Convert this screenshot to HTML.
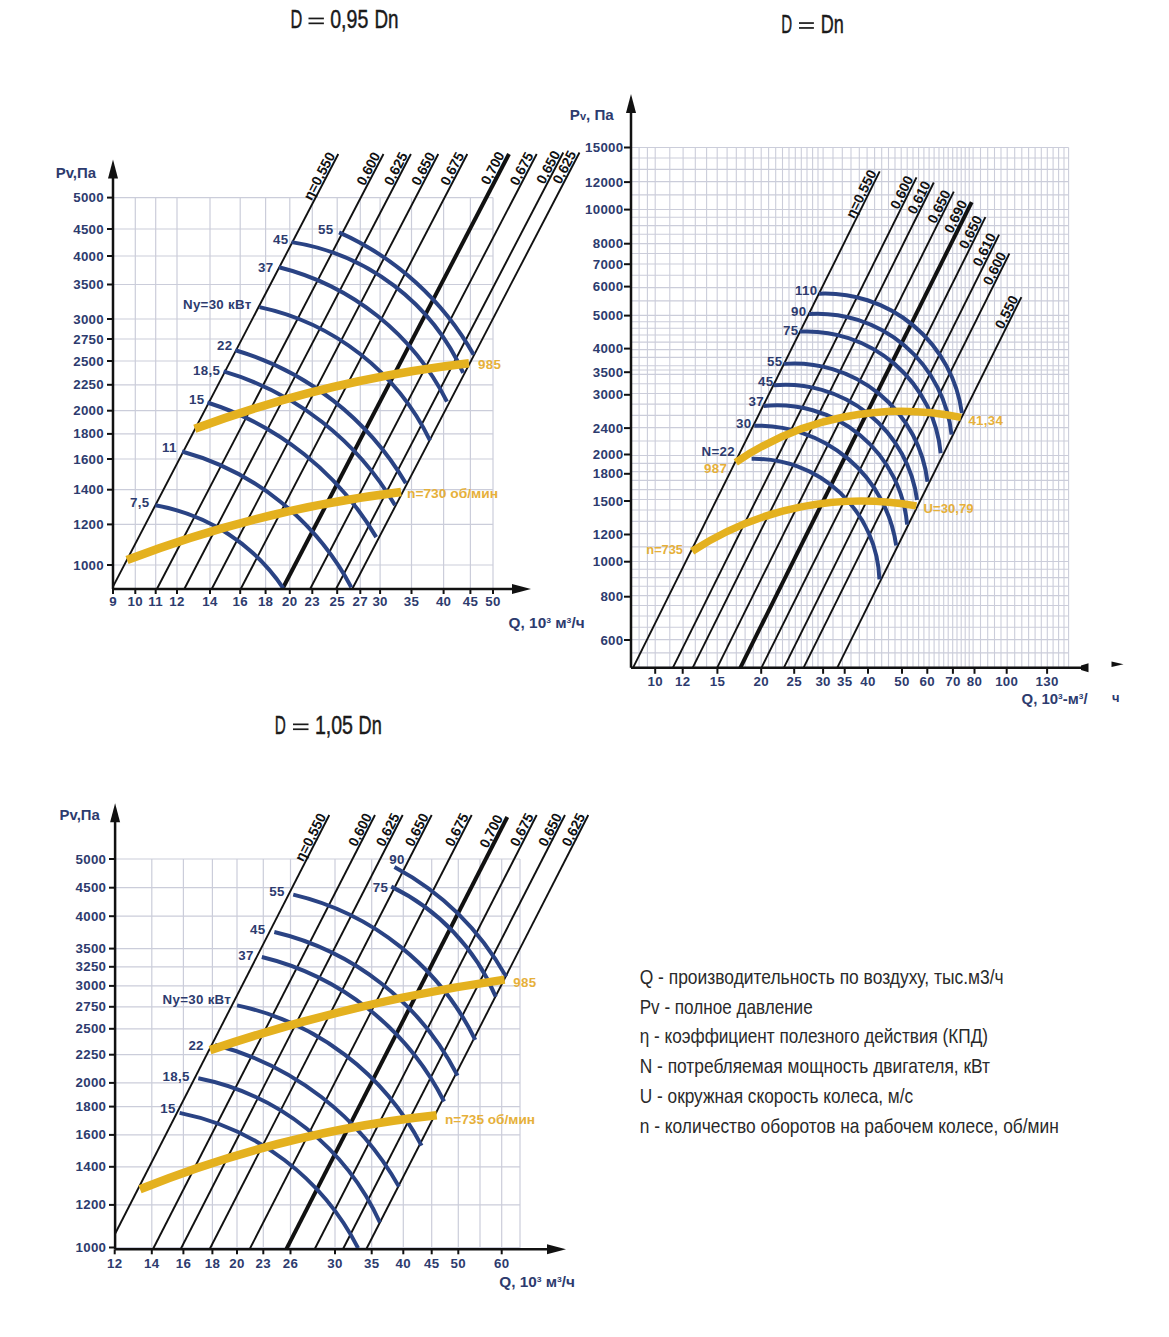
<!DOCTYPE html>
<html><head><meta charset="utf-8"><style>html,body{margin:0;padding:0;background:#fff;overflow:hidden;}svg{display:block}</style></head>
<body><svg width="1169" height="1337" viewBox="0 0 1169 1337">
<rect width="1169" height="1337" fill="#fff"/>
<text x="290.4" y="27.6" font-family="Liberation Sans" font-size="25.5" font-weight="normal" fill="#1a1a1a" text-anchor="start" textLength="11.8" lengthAdjust="spacingAndGlyphs" stroke="#1a1a1a" stroke-width="0.45">D</text>
<text x="330.2" y="27.6" font-family="Liberation Sans" font-size="25.5" font-weight="normal" fill="#1a1a1a" text-anchor="start" textLength="38.1" lengthAdjust="spacingAndGlyphs" stroke="#1a1a1a" stroke-width="0.45">0,95</text>
<text x="374.4" y="27.6" font-family="Liberation Sans" font-size="25.5" font-weight="normal" fill="#1a1a1a" text-anchor="start" textLength="24.1" lengthAdjust="spacingAndGlyphs" stroke="#1a1a1a" stroke-width="0.45">Dn</text>
<text x="781.2" y="32.8" font-family="Liberation Sans" font-size="25.5" font-weight="normal" fill="#1a1a1a" text-anchor="start" textLength="10.9" lengthAdjust="spacingAndGlyphs" stroke="#1a1a1a" stroke-width="0.45">D</text>
<text x="820.8" y="32.8" font-family="Liberation Sans" font-size="25.5" font-weight="normal" fill="#1a1a1a" text-anchor="start" textLength="23.1" lengthAdjust="spacingAndGlyphs" stroke="#1a1a1a" stroke-width="0.45">Dn</text>
<text x="274.8" y="733.5" font-family="Liberation Sans" font-size="25.5" font-weight="normal" fill="#1a1a1a" text-anchor="start" textLength="11.1" lengthAdjust="spacingAndGlyphs" stroke="#1a1a1a" stroke-width="0.45">D</text>
<text x="314.9" y="733.5" font-family="Liberation Sans" font-size="25.5" font-weight="normal" fill="#1a1a1a" text-anchor="start" textLength="38.1" lengthAdjust="spacingAndGlyphs" stroke="#1a1a1a" stroke-width="0.45">1,05</text>
<text x="358.6" y="733.5" font-family="Liberation Sans" font-size="25.5" font-weight="normal" fill="#1a1a1a" text-anchor="start" textLength="23.2" lengthAdjust="spacingAndGlyphs" stroke="#1a1a1a" stroke-width="0.45">Dn</text>
<rect x="308.5" y="17.6" width="15.4" height="1.7" fill="#1a1a1a"/>
<rect x="308.5" y="22.5" width="15.4" height="1.7" fill="#1a1a1a"/>
<rect x="799" y="22.2" width="14.9" height="1.7" fill="#1a1a1a"/>
<rect x="799" y="27.1" width="14.9" height="1.7" fill="#1a1a1a"/>
<rect x="293" y="723.5" width="15.5" height="1.7" fill="#1a1a1a"/>
<rect x="293" y="728.4" width="15.5" height="1.7" fill="#1a1a1a"/>
<line x1="113.0" y1="197.6" x2="493.0" y2="197.6" stroke="#cbcdda" stroke-width="1.2" stroke-linecap="butt"/>
<line x1="113.0" y1="229.0" x2="493.0" y2="229.0" stroke="#cbcdda" stroke-width="1.2" stroke-linecap="butt"/>
<line x1="113.0" y1="256.0" x2="493.0" y2="256.0" stroke="#cbcdda" stroke-width="1.2" stroke-linecap="butt"/>
<line x1="113.0" y1="284.5" x2="493.0" y2="284.5" stroke="#cbcdda" stroke-width="1.2" stroke-linecap="butt"/>
<line x1="113.0" y1="319.0" x2="493.0" y2="319.0" stroke="#cbcdda" stroke-width="1.2" stroke-linecap="butt"/>
<line x1="113.0" y1="339.0" x2="493.0" y2="339.0" stroke="#cbcdda" stroke-width="1.2" stroke-linecap="butt"/>
<line x1="113.0" y1="361.0" x2="493.0" y2="361.0" stroke="#cbcdda" stroke-width="1.2" stroke-linecap="butt"/>
<line x1="113.0" y1="384.8" x2="493.0" y2="384.8" stroke="#cbcdda" stroke-width="1.2" stroke-linecap="butt"/>
<line x1="113.0" y1="410.7" x2="493.0" y2="410.7" stroke="#cbcdda" stroke-width="1.2" stroke-linecap="butt"/>
<line x1="113.0" y1="433.9" x2="493.0" y2="433.9" stroke="#cbcdda" stroke-width="1.2" stroke-linecap="butt"/>
<line x1="113.0" y1="459.0" x2="493.0" y2="459.0" stroke="#cbcdda" stroke-width="1.2" stroke-linecap="butt"/>
<line x1="113.0" y1="489.7" x2="493.0" y2="489.7" stroke="#cbcdda" stroke-width="1.2" stroke-linecap="butt"/>
<line x1="113.0" y1="524.4" x2="493.0" y2="524.4" stroke="#cbcdda" stroke-width="1.2" stroke-linecap="butt"/>
<line x1="113.0" y1="565.0" x2="493.0" y2="565.0" stroke="#cbcdda" stroke-width="1.2" stroke-linecap="butt"/>
<line x1="135.3" y1="197.6" x2="135.3" y2="589.0" stroke="#cbcdda" stroke-width="1.2" stroke-linecap="butt"/>
<line x1="155.7" y1="197.6" x2="155.7" y2="589.0" stroke="#cbcdda" stroke-width="1.2" stroke-linecap="butt"/>
<line x1="177.0" y1="197.6" x2="177.0" y2="589.0" stroke="#cbcdda" stroke-width="1.2" stroke-linecap="butt"/>
<line x1="210.0" y1="197.6" x2="210.0" y2="589.0" stroke="#cbcdda" stroke-width="1.2" stroke-linecap="butt"/>
<line x1="240.2" y1="197.6" x2="240.2" y2="589.0" stroke="#cbcdda" stroke-width="1.2" stroke-linecap="butt"/>
<line x1="265.6" y1="197.6" x2="265.6" y2="589.0" stroke="#cbcdda" stroke-width="1.2" stroke-linecap="butt"/>
<line x1="289.8" y1="197.6" x2="289.8" y2="589.0" stroke="#cbcdda" stroke-width="1.2" stroke-linecap="butt"/>
<line x1="312.3" y1="197.6" x2="312.3" y2="589.0" stroke="#cbcdda" stroke-width="1.2" stroke-linecap="butt"/>
<line x1="337.2" y1="197.6" x2="337.2" y2="589.0" stroke="#cbcdda" stroke-width="1.2" stroke-linecap="butt"/>
<line x1="360.3" y1="197.6" x2="360.3" y2="589.0" stroke="#cbcdda" stroke-width="1.2" stroke-linecap="butt"/>
<line x1="380.1" y1="197.6" x2="380.1" y2="589.0" stroke="#cbcdda" stroke-width="1.2" stroke-linecap="butt"/>
<line x1="411.5" y1="197.6" x2="411.5" y2="589.0" stroke="#cbcdda" stroke-width="1.2" stroke-linecap="butt"/>
<line x1="443.6" y1="197.6" x2="443.6" y2="589.0" stroke="#cbcdda" stroke-width="1.2" stroke-linecap="butt"/>
<line x1="470.4" y1="197.6" x2="470.4" y2="589.0" stroke="#cbcdda" stroke-width="1.2" stroke-linecap="butt"/>
<line x1="493.0" y1="197.6" x2="493.0" y2="589.0" stroke="#cbcdda" stroke-width="1.2" stroke-linecap="butt"/>
<line x1="107.0" y1="197.6" x2="113.0" y2="197.6" stroke="#111111" stroke-width="2" stroke-linecap="butt"/>
<text x="104.0" y="202.1" font-family="Liberation Sans" font-size="13.3" font-weight="bold" fill="#2d3b6e" text-anchor="end" letter-spacing="0.3">5000</text>
<line x1="107.0" y1="229.0" x2="113.0" y2="229.0" stroke="#111111" stroke-width="2" stroke-linecap="butt"/>
<text x="104.0" y="233.5" font-family="Liberation Sans" font-size="13.3" font-weight="bold" fill="#2d3b6e" text-anchor="end" letter-spacing="0.3">4500</text>
<line x1="107.0" y1="256.0" x2="113.0" y2="256.0" stroke="#111111" stroke-width="2" stroke-linecap="butt"/>
<text x="104.0" y="260.5" font-family="Liberation Sans" font-size="13.3" font-weight="bold" fill="#2d3b6e" text-anchor="end" letter-spacing="0.3">4000</text>
<line x1="107.0" y1="284.5" x2="113.0" y2="284.5" stroke="#111111" stroke-width="2" stroke-linecap="butt"/>
<text x="104.0" y="289.0" font-family="Liberation Sans" font-size="13.3" font-weight="bold" fill="#2d3b6e" text-anchor="end" letter-spacing="0.3">3500</text>
<line x1="107.0" y1="319.0" x2="113.0" y2="319.0" stroke="#111111" stroke-width="2" stroke-linecap="butt"/>
<text x="104.0" y="323.5" font-family="Liberation Sans" font-size="13.3" font-weight="bold" fill="#2d3b6e" text-anchor="end" letter-spacing="0.3">3000</text>
<line x1="107.0" y1="339.0" x2="113.0" y2="339.0" stroke="#111111" stroke-width="2" stroke-linecap="butt"/>
<text x="104.0" y="343.5" font-family="Liberation Sans" font-size="13.3" font-weight="bold" fill="#2d3b6e" text-anchor="end" letter-spacing="0.3">2750</text>
<line x1="107.0" y1="361.0" x2="113.0" y2="361.0" stroke="#111111" stroke-width="2" stroke-linecap="butt"/>
<text x="104.0" y="365.5" font-family="Liberation Sans" font-size="13.3" font-weight="bold" fill="#2d3b6e" text-anchor="end" letter-spacing="0.3">2500</text>
<line x1="107.0" y1="384.8" x2="113.0" y2="384.8" stroke="#111111" stroke-width="2" stroke-linecap="butt"/>
<text x="104.0" y="389.3" font-family="Liberation Sans" font-size="13.3" font-weight="bold" fill="#2d3b6e" text-anchor="end" letter-spacing="0.3">2250</text>
<line x1="107.0" y1="410.7" x2="113.0" y2="410.7" stroke="#111111" stroke-width="2" stroke-linecap="butt"/>
<text x="104.0" y="415.2" font-family="Liberation Sans" font-size="13.3" font-weight="bold" fill="#2d3b6e" text-anchor="end" letter-spacing="0.3">2000</text>
<line x1="107.0" y1="433.9" x2="113.0" y2="433.9" stroke="#111111" stroke-width="2" stroke-linecap="butt"/>
<text x="104.0" y="438.4" font-family="Liberation Sans" font-size="13.3" font-weight="bold" fill="#2d3b6e" text-anchor="end" letter-spacing="0.3">1800</text>
<line x1="107.0" y1="459.0" x2="113.0" y2="459.0" stroke="#111111" stroke-width="2" stroke-linecap="butt"/>
<text x="104.0" y="463.5" font-family="Liberation Sans" font-size="13.3" font-weight="bold" fill="#2d3b6e" text-anchor="end" letter-spacing="0.3">1600</text>
<line x1="107.0" y1="489.7" x2="113.0" y2="489.7" stroke="#111111" stroke-width="2" stroke-linecap="butt"/>
<text x="104.0" y="494.2" font-family="Liberation Sans" font-size="13.3" font-weight="bold" fill="#2d3b6e" text-anchor="end" letter-spacing="0.3">1400</text>
<line x1="107.0" y1="524.4" x2="113.0" y2="524.4" stroke="#111111" stroke-width="2" stroke-linecap="butt"/>
<text x="104.0" y="528.9" font-family="Liberation Sans" font-size="13.3" font-weight="bold" fill="#2d3b6e" text-anchor="end" letter-spacing="0.3">1200</text>
<line x1="107.0" y1="565.0" x2="113.0" y2="565.0" stroke="#111111" stroke-width="2" stroke-linecap="butt"/>
<text x="104.0" y="569.5" font-family="Liberation Sans" font-size="13.3" font-weight="bold" fill="#2d3b6e" text-anchor="end" letter-spacing="0.3">1000</text>
<line x1="113.0" y1="589.0" x2="113.0" y2="594.0" stroke="#111111" stroke-width="2" stroke-linecap="butt"/>
<text x="113.0" y="606.0" font-family="Liberation Sans" font-size="13.3" font-weight="bold" fill="#2d3b6e" text-anchor="middle" letter-spacing="0.3">9</text>
<line x1="135.3" y1="589.0" x2="135.3" y2="594.0" stroke="#111111" stroke-width="2" stroke-linecap="butt"/>
<text x="135.3" y="606.0" font-family="Liberation Sans" font-size="13.3" font-weight="bold" fill="#2d3b6e" text-anchor="middle" letter-spacing="0.3">10</text>
<line x1="155.7" y1="589.0" x2="155.7" y2="594.0" stroke="#111111" stroke-width="2" stroke-linecap="butt"/>
<text x="155.7" y="606.0" font-family="Liberation Sans" font-size="13.3" font-weight="bold" fill="#2d3b6e" text-anchor="middle" letter-spacing="0.3">11</text>
<line x1="177.0" y1="589.0" x2="177.0" y2="594.0" stroke="#111111" stroke-width="2" stroke-linecap="butt"/>
<text x="177.0" y="606.0" font-family="Liberation Sans" font-size="13.3" font-weight="bold" fill="#2d3b6e" text-anchor="middle" letter-spacing="0.3">12</text>
<line x1="210.0" y1="589.0" x2="210.0" y2="594.0" stroke="#111111" stroke-width="2" stroke-linecap="butt"/>
<text x="210.0" y="606.0" font-family="Liberation Sans" font-size="13.3" font-weight="bold" fill="#2d3b6e" text-anchor="middle" letter-spacing="0.3">14</text>
<line x1="240.2" y1="589.0" x2="240.2" y2="594.0" stroke="#111111" stroke-width="2" stroke-linecap="butt"/>
<text x="240.2" y="606.0" font-family="Liberation Sans" font-size="13.3" font-weight="bold" fill="#2d3b6e" text-anchor="middle" letter-spacing="0.3">16</text>
<line x1="265.6" y1="589.0" x2="265.6" y2="594.0" stroke="#111111" stroke-width="2" stroke-linecap="butt"/>
<text x="265.6" y="606.0" font-family="Liberation Sans" font-size="13.3" font-weight="bold" fill="#2d3b6e" text-anchor="middle" letter-spacing="0.3">18</text>
<line x1="289.8" y1="589.0" x2="289.8" y2="594.0" stroke="#111111" stroke-width="2" stroke-linecap="butt"/>
<text x="289.8" y="606.0" font-family="Liberation Sans" font-size="13.3" font-weight="bold" fill="#2d3b6e" text-anchor="middle" letter-spacing="0.3">20</text>
<line x1="312.3" y1="589.0" x2="312.3" y2="594.0" stroke="#111111" stroke-width="2" stroke-linecap="butt"/>
<text x="312.3" y="606.0" font-family="Liberation Sans" font-size="13.3" font-weight="bold" fill="#2d3b6e" text-anchor="middle" letter-spacing="0.3">23</text>
<line x1="337.2" y1="589.0" x2="337.2" y2="594.0" stroke="#111111" stroke-width="2" stroke-linecap="butt"/>
<text x="337.2" y="606.0" font-family="Liberation Sans" font-size="13.3" font-weight="bold" fill="#2d3b6e" text-anchor="middle" letter-spacing="0.3">25</text>
<line x1="360.3" y1="589.0" x2="360.3" y2="594.0" stroke="#111111" stroke-width="2" stroke-linecap="butt"/>
<text x="360.3" y="606.0" font-family="Liberation Sans" font-size="13.3" font-weight="bold" fill="#2d3b6e" text-anchor="middle" letter-spacing="0.3">27</text>
<line x1="380.1" y1="589.0" x2="380.1" y2="594.0" stroke="#111111" stroke-width="2" stroke-linecap="butt"/>
<text x="380.1" y="606.0" font-family="Liberation Sans" font-size="13.3" font-weight="bold" fill="#2d3b6e" text-anchor="middle" letter-spacing="0.3">30</text>
<line x1="411.5" y1="589.0" x2="411.5" y2="594.0" stroke="#111111" stroke-width="2" stroke-linecap="butt"/>
<text x="411.5" y="606.0" font-family="Liberation Sans" font-size="13.3" font-weight="bold" fill="#2d3b6e" text-anchor="middle" letter-spacing="0.3">35</text>
<line x1="443.6" y1="589.0" x2="443.6" y2="594.0" stroke="#111111" stroke-width="2" stroke-linecap="butt"/>
<text x="443.6" y="606.0" font-family="Liberation Sans" font-size="13.3" font-weight="bold" fill="#2d3b6e" text-anchor="middle" letter-spacing="0.3">40</text>
<line x1="470.4" y1="589.0" x2="470.4" y2="594.0" stroke="#111111" stroke-width="2" stroke-linecap="butt"/>
<text x="470.4" y="606.0" font-family="Liberation Sans" font-size="13.3" font-weight="bold" fill="#2d3b6e" text-anchor="middle" letter-spacing="0.3">45</text>
<line x1="493.0" y1="589.0" x2="493.0" y2="594.0" stroke="#111111" stroke-width="2" stroke-linecap="butt"/>
<text x="493.0" y="606.0" font-family="Liberation Sans" font-size="13.3" font-weight="bold" fill="#2d3b6e" text-anchor="middle" letter-spacing="0.3">50</text>
<text x="55.7" y="178.3" font-family="Liberation Sans" font-size="14.5" font-weight="bold" fill="#2d3b6e" text-anchor="start" textLength="40.4" lengthAdjust="spacingAndGlyphs">Pv,Па</text>
<text x="508.6" y="627.8" font-family="Liberation Sans" font-size="14.3" font-weight="bold" fill="#2d3b6e" text-anchor="start" textLength="76" lengthAdjust="spacingAndGlyphs">Q, 10<tspan font-size="8" dy="-5">3</tspan><tspan dy="5"> м</tspan><tspan font-size="8" dy="-5">3</tspan><tspan dy="5">/ч</tspan></text>
<line x1="338.3" y1="154.0" x2="113.0" y2="586.6" stroke="#111111" stroke-width="1.9" stroke-linecap="butt"/>
<line x1="383.5" y1="154.0" x2="156.9" y2="589.0" stroke="#111111" stroke-width="1.9" stroke-linecap="butt"/>
<line x1="410.9" y1="154.0" x2="184.3" y2="589.0" stroke="#111111" stroke-width="1.9" stroke-linecap="butt"/>
<line x1="438.3" y1="154.0" x2="211.7" y2="589.0" stroke="#111111" stroke-width="1.9" stroke-linecap="butt"/>
<line x1="467.3" y1="154.0" x2="240.7" y2="589.0" stroke="#111111" stroke-width="1.9" stroke-linecap="butt"/>
<line x1="509.0" y1="154.0" x2="282.4" y2="589.0" stroke="#111111" stroke-width="4" stroke-linecap="butt"/>
<line x1="536.7" y1="154.0" x2="310.1" y2="589.0" stroke="#111111" stroke-width="1.9" stroke-linecap="butt"/>
<line x1="563.3" y1="152.5" x2="336.0" y2="589.0" stroke="#111111" stroke-width="1.9" stroke-linecap="butt"/>
<line x1="579.5" y1="152.5" x2="352.2" y2="589.0" stroke="#111111" stroke-width="1.9" stroke-linecap="butt"/>
<text transform="translate(337.1,156.2) rotate(-62.5)" x="0" y="-1.8" font-family="Liberation Sans" font-size="14" font-weight="bold" fill="#111111" text-anchor="end">η=0,550</text>
<text transform="translate(382.3,156.2) rotate(-62.5)" x="0" y="-1.8" font-family="Liberation Sans" font-size="14" font-weight="bold" fill="#111111" text-anchor="end">0,600</text>
<text transform="translate(409.7,156.2) rotate(-62.5)" x="0" y="-1.8" font-family="Liberation Sans" font-size="14" font-weight="bold" fill="#111111" text-anchor="end">0,625</text>
<text transform="translate(437.1,156.2) rotate(-62.5)" x="0" y="-1.8" font-family="Liberation Sans" font-size="14" font-weight="bold" fill="#111111" text-anchor="end">0,650</text>
<text transform="translate(466.1,156.2) rotate(-62.5)" x="0" y="-1.8" font-family="Liberation Sans" font-size="14" font-weight="bold" fill="#111111" text-anchor="end">0,675</text>
<text transform="translate(507.8,156.2) rotate(-62.5)" x="0" y="-3.2" font-family="Liberation Sans" font-size="14" font-weight="bold" fill="#111111" text-anchor="end">0,700</text>
<text transform="translate(535.5,156.2) rotate(-62.5)" x="0" y="-1.8" font-family="Liberation Sans" font-size="14" font-weight="bold" fill="#111111" text-anchor="end">0,675</text>
<text transform="translate(562.1,154.7) rotate(-62.5)" x="0" y="-1.8" font-family="Liberation Sans" font-size="14" font-weight="bold" fill="#111111" text-anchor="end">0,650</text>
<text transform="translate(578.3,154.7) rotate(-62.5)" x="0" y="-1.8" font-family="Liberation Sans" font-size="14" font-weight="bold" fill="#111111" text-anchor="end">0,625</text>
<path d="M155.37,505.34 A194.36,194.36 0 0 1 283.36,588.26" fill="none" stroke="#2a4384" stroke-width="4" stroke-linecap="butt"/>
<path d="M182.05,451.53 A273.79,273.79 0 0 1 351.32,587.32" fill="none" stroke="#2a4384" stroke-width="4" stroke-linecap="butt"/>
<path d="M207.39,402.50 A302.70,302.70 0 0 1 376.23,537.12" fill="none" stroke="#2a4384" stroke-width="4" stroke-linecap="butt"/>
<path d="M223.59,371.44 A294.61,294.61 0 0 1 395.06,505.30" fill="none" stroke="#2a4384" stroke-width="4" stroke-linecap="butt"/>
<path d="M235.39,350.27 A294.40,294.40 0 0 1 405.81,483.31" fill="none" stroke="#2a4384" stroke-width="4" stroke-linecap="butt"/>
<path d="M259.52,307.09 A246.45,246.45 0 0 1 429.97,440.41" fill="none" stroke="#2a4384" stroke-width="4" stroke-linecap="butt"/>
<path d="M279.00,267.21 A257.91,257.91 0 0 1 446.94,401.54" fill="none" stroke="#2a4384" stroke-width="4" stroke-linecap="butt"/>
<path d="M291.55,242.11 A225.43,225.43 0 0 1 463.18,372.92" fill="none" stroke="#2a4384" stroke-width="4" stroke-linecap="butt"/>
<path d="M339.08,232.34 A290.32,290.32 0 0 1 473.65,354.78" fill="none" stroke="#2a4384" stroke-width="4" stroke-linecap="butt"/>
<path d="M194.77,428.79 A1179.03,1179.03 0 0 1 468.97,363.28" fill="none" stroke="#e4b11f" stroke-width="8.5" stroke-linecap="butt"/>
<path d="M127.02,559.93 A1158.46,1158.46 0 0 1 401.09,491.93" fill="none" stroke="#e4b11f" stroke-width="8.5" stroke-linecap="butt"/>
<text x="318.0" y="233.5" font-family="Liberation Sans" font-size="13.3" font-weight="bold" fill="#2d3b6e" text-anchor="start" letter-spacing="0.3">55</text>
<text x="273.0" y="243.5" font-family="Liberation Sans" font-size="13.3" font-weight="bold" fill="#2d3b6e" text-anchor="start" letter-spacing="0.3">45</text>
<text x="258.0" y="271.5" font-family="Liberation Sans" font-size="13.3" font-weight="bold" fill="#2d3b6e" text-anchor="start" letter-spacing="0.3">37</text>
<text x="183.0" y="308.5" font-family="Liberation Sans" font-size="13.3" font-weight="bold" fill="#2d3b6e" text-anchor="start" letter-spacing="0.3">Ny=30 кВт</text>
<text x="217.0" y="349.5" font-family="Liberation Sans" font-size="13.3" font-weight="bold" fill="#2d3b6e" text-anchor="start" letter-spacing="0.3">22</text>
<text x="193.0" y="374.5" font-family="Liberation Sans" font-size="13.3" font-weight="bold" fill="#2d3b6e" text-anchor="start" letter-spacing="0.3">18,5</text>
<text x="189.0" y="403.5" font-family="Liberation Sans" font-size="13.3" font-weight="bold" fill="#2d3b6e" text-anchor="start" letter-spacing="0.3">15</text>
<text x="162.0" y="451.5" font-family="Liberation Sans" font-size="13.3" font-weight="bold" fill="#2d3b6e" text-anchor="start" letter-spacing="0.3">11</text>
<text x="130.0" y="506.5" font-family="Liberation Sans" font-size="13.3" font-weight="bold" fill="#2d3b6e" text-anchor="start" letter-spacing="0.3">7,5</text>
<text x="478.0" y="368.5" font-family="Liberation Sans" font-size="13.3" font-weight="bold" fill="#e6b03a" text-anchor="start" letter-spacing="0.3">985</text>
<text x="407.0" y="497.5" font-family="Liberation Sans" font-size="13.3" font-weight="bold" fill="#e6b03a" text-anchor="start" textLength="91" lengthAdjust="spacingAndGlyphs">n=730 об/мин</text>
<line x1="113.0" y1="589.0" x2="113.0" y2="176.0" stroke="#111111" stroke-width="2.5" stroke-linecap="butt"/>
<path d="M113,159.6 L108,178.6 L118,178.6 Z" fill="#111111"/>
<line x1="113.0" y1="589.0" x2="515.0" y2="589.0" stroke="#111111" stroke-width="2.5" stroke-linecap="butt"/>
<path d="M531,589 L512,584 L512,594 Z" fill="#111111"/>
<line x1="631.0" y1="667.4" x2="1068.6" y2="667.4" stroke="#cbcdda" stroke-width="1.1" stroke-linecap="butt"/>
<line x1="631.0" y1="652.9" x2="1068.6" y2="652.9" stroke="#cbcdda" stroke-width="1.1" stroke-linecap="butt"/>
<line x1="631.0" y1="639.6" x2="1068.6" y2="639.6" stroke="#cbcdda" stroke-width="1.1" stroke-linecap="butt"/>
<line x1="631.0" y1="627.3" x2="1068.6" y2="627.3" stroke="#cbcdda" stroke-width="1.1" stroke-linecap="butt"/>
<line x1="631.0" y1="616.0" x2="1068.6" y2="616.0" stroke="#cbcdda" stroke-width="1.1" stroke-linecap="butt"/>
<line x1="631.0" y1="605.5" x2="1068.6" y2="605.5" stroke="#cbcdda" stroke-width="1.1" stroke-linecap="butt"/>
<line x1="631.0" y1="595.6" x2="1068.6" y2="595.6" stroke="#cbcdda" stroke-width="1.1" stroke-linecap="butt"/>
<line x1="631.0" y1="586.3" x2="1068.6" y2="586.3" stroke="#cbcdda" stroke-width="1.1" stroke-linecap="butt"/>
<line x1="631.0" y1="577.6" x2="1068.6" y2="577.6" stroke="#cbcdda" stroke-width="1.1" stroke-linecap="butt"/>
<line x1="631.0" y1="569.3" x2="1068.6" y2="569.3" stroke="#cbcdda" stroke-width="1.1" stroke-linecap="butt"/>
<line x1="631.0" y1="561.5" x2="1068.6" y2="561.5" stroke="#cbcdda" stroke-width="1.1" stroke-linecap="butt"/>
<line x1="631.0" y1="546.9" x2="1068.6" y2="546.9" stroke="#cbcdda" stroke-width="1.1" stroke-linecap="butt"/>
<line x1="631.0" y1="533.6" x2="1068.6" y2="533.6" stroke="#cbcdda" stroke-width="1.1" stroke-linecap="butt"/>
<line x1="631.0" y1="521.4" x2="1068.6" y2="521.4" stroke="#cbcdda" stroke-width="1.1" stroke-linecap="butt"/>
<line x1="631.0" y1="510.0" x2="1068.6" y2="510.0" stroke="#cbcdda" stroke-width="1.1" stroke-linecap="butt"/>
<line x1="631.0" y1="499.5" x2="1068.6" y2="499.5" stroke="#cbcdda" stroke-width="1.1" stroke-linecap="butt"/>
<line x1="631.0" y1="489.6" x2="1068.6" y2="489.6" stroke="#cbcdda" stroke-width="1.1" stroke-linecap="butt"/>
<line x1="631.0" y1="480.4" x2="1068.6" y2="480.4" stroke="#cbcdda" stroke-width="1.1" stroke-linecap="butt"/>
<line x1="631.0" y1="471.6" x2="1068.6" y2="471.6" stroke="#cbcdda" stroke-width="1.1" stroke-linecap="butt"/>
<line x1="631.0" y1="463.4" x2="1068.6" y2="463.4" stroke="#cbcdda" stroke-width="1.1" stroke-linecap="butt"/>
<line x1="631.0" y1="455.5" x2="1068.6" y2="455.5" stroke="#cbcdda" stroke-width="1.1" stroke-linecap="butt"/>
<line x1="631.0" y1="441.0" x2="1068.6" y2="441.0" stroke="#cbcdda" stroke-width="1.1" stroke-linecap="butt"/>
<line x1="631.0" y1="427.6" x2="1068.6" y2="427.6" stroke="#cbcdda" stroke-width="1.1" stroke-linecap="butt"/>
<line x1="631.0" y1="415.4" x2="1068.6" y2="415.4" stroke="#cbcdda" stroke-width="1.1" stroke-linecap="butt"/>
<line x1="631.0" y1="404.1" x2="1068.6" y2="404.1" stroke="#cbcdda" stroke-width="1.1" stroke-linecap="butt"/>
<line x1="631.0" y1="393.5" x2="1068.6" y2="393.5" stroke="#cbcdda" stroke-width="1.1" stroke-linecap="butt"/>
<line x1="631.0" y1="383.7" x2="1068.6" y2="383.7" stroke="#cbcdda" stroke-width="1.1" stroke-linecap="butt"/>
<line x1="631.0" y1="374.4" x2="1068.6" y2="374.4" stroke="#cbcdda" stroke-width="1.1" stroke-linecap="butt"/>
<line x1="631.0" y1="365.7" x2="1068.6" y2="365.7" stroke="#cbcdda" stroke-width="1.1" stroke-linecap="butt"/>
<line x1="631.0" y1="357.4" x2="1068.6" y2="357.4" stroke="#cbcdda" stroke-width="1.1" stroke-linecap="butt"/>
<line x1="631.0" y1="349.6" x2="1068.6" y2="349.6" stroke="#cbcdda" stroke-width="1.1" stroke-linecap="butt"/>
<line x1="631.0" y1="342.1" x2="1068.6" y2="342.1" stroke="#cbcdda" stroke-width="1.1" stroke-linecap="butt"/>
<line x1="631.0" y1="335.0" x2="1068.6" y2="335.0" stroke="#cbcdda" stroke-width="1.1" stroke-linecap="butt"/>
<line x1="631.0" y1="328.2" x2="1068.6" y2="328.2" stroke="#cbcdda" stroke-width="1.1" stroke-linecap="butt"/>
<line x1="631.0" y1="321.7" x2="1068.6" y2="321.7" stroke="#cbcdda" stroke-width="1.1" stroke-linecap="butt"/>
<line x1="631.0" y1="370.0" x2="1068.6" y2="370.0" stroke="#cbcdda" stroke-width="1.1" stroke-linecap="butt"/>
<line x1="631.0" y1="315.4" x2="1068.6" y2="315.4" stroke="#cbcdda" stroke-width="1.1" stroke-linecap="butt"/>
<line x1="631.0" y1="300.9" x2="1068.6" y2="300.9" stroke="#cbcdda" stroke-width="1.1" stroke-linecap="butt"/>
<line x1="631.0" y1="287.6" x2="1068.6" y2="287.6" stroke="#cbcdda" stroke-width="1.1" stroke-linecap="butt"/>
<line x1="631.0" y1="275.3" x2="1068.6" y2="275.3" stroke="#cbcdda" stroke-width="1.1" stroke-linecap="butt"/>
<line x1="631.0" y1="264.0" x2="1068.6" y2="264.0" stroke="#cbcdda" stroke-width="1.1" stroke-linecap="butt"/>
<line x1="631.0" y1="253.5" x2="1068.6" y2="253.5" stroke="#cbcdda" stroke-width="1.1" stroke-linecap="butt"/>
<line x1="631.0" y1="243.6" x2="1068.6" y2="243.6" stroke="#cbcdda" stroke-width="1.1" stroke-linecap="butt"/>
<line x1="631.0" y1="234.3" x2="1068.6" y2="234.3" stroke="#cbcdda" stroke-width="1.1" stroke-linecap="butt"/>
<line x1="631.0" y1="225.6" x2="1068.6" y2="225.6" stroke="#cbcdda" stroke-width="1.1" stroke-linecap="butt"/>
<line x1="631.0" y1="217.3" x2="1068.6" y2="217.3" stroke="#cbcdda" stroke-width="1.1" stroke-linecap="butt"/>
<line x1="631.0" y1="209.5" x2="1068.6" y2="209.5" stroke="#cbcdda" stroke-width="1.1" stroke-linecap="butt"/>
<line x1="631.0" y1="194.9" x2="1068.6" y2="194.9" stroke="#cbcdda" stroke-width="1.1" stroke-linecap="butt"/>
<line x1="631.0" y1="181.6" x2="1068.6" y2="181.6" stroke="#cbcdda" stroke-width="1.1" stroke-linecap="butt"/>
<line x1="631.0" y1="169.4" x2="1068.6" y2="169.4" stroke="#cbcdda" stroke-width="1.1" stroke-linecap="butt"/>
<line x1="631.0" y1="158.0" x2="1068.6" y2="158.0" stroke="#cbcdda" stroke-width="1.1" stroke-linecap="butt"/>
<line x1="631.0" y1="147.5" x2="1068.6" y2="147.5" stroke="#cbcdda" stroke-width="1.1" stroke-linecap="butt"/>
<line x1="639.1" y1="147.5" x2="639.1" y2="667.8" stroke="#cbcdda" stroke-width="1.1" stroke-linecap="butt"/>
<line x1="647.4" y1="147.5" x2="647.4" y2="667.8" stroke="#cbcdda" stroke-width="1.1" stroke-linecap="butt"/>
<line x1="655.2" y1="147.5" x2="655.2" y2="667.8" stroke="#cbcdda" stroke-width="1.1" stroke-linecap="butt"/>
<line x1="669.8" y1="147.5" x2="669.8" y2="667.8" stroke="#cbcdda" stroke-width="1.1" stroke-linecap="butt"/>
<line x1="683.1" y1="147.5" x2="683.1" y2="667.8" stroke="#cbcdda" stroke-width="1.1" stroke-linecap="butt"/>
<line x1="695.3" y1="147.5" x2="695.3" y2="667.8" stroke="#cbcdda" stroke-width="1.1" stroke-linecap="butt"/>
<line x1="706.6" y1="147.5" x2="706.6" y2="667.8" stroke="#cbcdda" stroke-width="1.1" stroke-linecap="butt"/>
<line x1="717.2" y1="147.5" x2="717.2" y2="667.8" stroke="#cbcdda" stroke-width="1.1" stroke-linecap="butt"/>
<line x1="727.1" y1="147.5" x2="727.1" y2="667.8" stroke="#cbcdda" stroke-width="1.1" stroke-linecap="butt"/>
<line x1="736.3" y1="147.5" x2="736.3" y2="667.8" stroke="#cbcdda" stroke-width="1.1" stroke-linecap="butt"/>
<line x1="745.1" y1="147.5" x2="745.1" y2="667.8" stroke="#cbcdda" stroke-width="1.1" stroke-linecap="butt"/>
<line x1="753.3" y1="147.5" x2="753.3" y2="667.8" stroke="#cbcdda" stroke-width="1.1" stroke-linecap="butt"/>
<line x1="761.2" y1="147.5" x2="761.2" y2="667.8" stroke="#cbcdda" stroke-width="1.1" stroke-linecap="butt"/>
<line x1="768.6" y1="147.5" x2="768.6" y2="667.8" stroke="#cbcdda" stroke-width="1.1" stroke-linecap="butt"/>
<line x1="775.7" y1="147.5" x2="775.7" y2="667.8" stroke="#cbcdda" stroke-width="1.1" stroke-linecap="butt"/>
<line x1="782.5" y1="147.5" x2="782.5" y2="667.8" stroke="#cbcdda" stroke-width="1.1" stroke-linecap="butt"/>
<line x1="789.0" y1="147.5" x2="789.0" y2="667.8" stroke="#cbcdda" stroke-width="1.1" stroke-linecap="butt"/>
<line x1="795.3" y1="147.5" x2="795.3" y2="667.8" stroke="#cbcdda" stroke-width="1.1" stroke-linecap="butt"/>
<line x1="801.3" y1="147.5" x2="801.3" y2="667.8" stroke="#cbcdda" stroke-width="1.1" stroke-linecap="butt"/>
<line x1="807.0" y1="147.5" x2="807.0" y2="667.8" stroke="#cbcdda" stroke-width="1.1" stroke-linecap="butt"/>
<line x1="812.6" y1="147.5" x2="812.6" y2="667.8" stroke="#cbcdda" stroke-width="1.1" stroke-linecap="butt"/>
<line x1="818.0" y1="147.5" x2="818.0" y2="667.8" stroke="#cbcdda" stroke-width="1.1" stroke-linecap="butt"/>
<line x1="823.1" y1="147.5" x2="823.1" y2="667.8" stroke="#cbcdda" stroke-width="1.1" stroke-linecap="butt"/>
<line x1="833.0" y1="147.5" x2="833.0" y2="667.8" stroke="#cbcdda" stroke-width="1.1" stroke-linecap="butt"/>
<line x1="842.3" y1="147.5" x2="842.3" y2="667.8" stroke="#cbcdda" stroke-width="1.1" stroke-linecap="butt"/>
<line x1="851.0" y1="147.5" x2="851.0" y2="667.8" stroke="#cbcdda" stroke-width="1.1" stroke-linecap="butt"/>
<line x1="859.3" y1="147.5" x2="859.3" y2="667.8" stroke="#cbcdda" stroke-width="1.1" stroke-linecap="butt"/>
<line x1="867.1" y1="147.5" x2="867.1" y2="667.8" stroke="#cbcdda" stroke-width="1.1" stroke-linecap="butt"/>
<line x1="874.6" y1="147.5" x2="874.6" y2="667.8" stroke="#cbcdda" stroke-width="1.1" stroke-linecap="butt"/>
<line x1="881.7" y1="147.5" x2="881.7" y2="667.8" stroke="#cbcdda" stroke-width="1.1" stroke-linecap="butt"/>
<line x1="888.5" y1="147.5" x2="888.5" y2="667.8" stroke="#cbcdda" stroke-width="1.1" stroke-linecap="butt"/>
<line x1="895.0" y1="147.5" x2="895.0" y2="667.8" stroke="#cbcdda" stroke-width="1.1" stroke-linecap="butt"/>
<line x1="901.2" y1="147.5" x2="901.2" y2="667.8" stroke="#cbcdda" stroke-width="1.1" stroke-linecap="butt"/>
<line x1="907.2" y1="147.5" x2="907.2" y2="667.8" stroke="#cbcdda" stroke-width="1.1" stroke-linecap="butt"/>
<line x1="913.0" y1="147.5" x2="913.0" y2="667.8" stroke="#cbcdda" stroke-width="1.1" stroke-linecap="butt"/>
<line x1="918.6" y1="147.5" x2="918.6" y2="667.8" stroke="#cbcdda" stroke-width="1.1" stroke-linecap="butt"/>
<line x1="923.9" y1="147.5" x2="923.9" y2="667.8" stroke="#cbcdda" stroke-width="1.1" stroke-linecap="butt"/>
<line x1="929.1" y1="147.5" x2="929.1" y2="667.8" stroke="#cbcdda" stroke-width="1.1" stroke-linecap="butt"/>
<line x1="934.1" y1="147.5" x2="934.1" y2="667.8" stroke="#cbcdda" stroke-width="1.1" stroke-linecap="butt"/>
<line x1="939.0" y1="147.5" x2="939.0" y2="667.8" stroke="#cbcdda" stroke-width="1.1" stroke-linecap="butt"/>
<line x1="943.7" y1="147.5" x2="943.7" y2="667.8" stroke="#cbcdda" stroke-width="1.1" stroke-linecap="butt"/>
<line x1="948.2" y1="147.5" x2="948.2" y2="667.8" stroke="#cbcdda" stroke-width="1.1" stroke-linecap="butt"/>
<line x1="952.7" y1="147.5" x2="952.7" y2="667.8" stroke="#cbcdda" stroke-width="1.1" stroke-linecap="butt"/>
<line x1="957.0" y1="147.5" x2="957.0" y2="667.8" stroke="#cbcdda" stroke-width="1.1" stroke-linecap="butt"/>
<line x1="961.2" y1="147.5" x2="961.2" y2="667.8" stroke="#cbcdda" stroke-width="1.1" stroke-linecap="butt"/>
<line x1="965.2" y1="147.5" x2="965.2" y2="667.8" stroke="#cbcdda" stroke-width="1.1" stroke-linecap="butt"/>
<line x1="969.2" y1="147.5" x2="969.2" y2="667.8" stroke="#cbcdda" stroke-width="1.1" stroke-linecap="butt"/>
<line x1="973.1" y1="147.5" x2="973.1" y2="667.8" stroke="#cbcdda" stroke-width="1.1" stroke-linecap="butt"/>
<line x1="980.5" y1="147.5" x2="980.5" y2="667.8" stroke="#cbcdda" stroke-width="1.1" stroke-linecap="butt"/>
<line x1="987.7" y1="147.5" x2="987.7" y2="667.8" stroke="#cbcdda" stroke-width="1.1" stroke-linecap="butt"/>
<line x1="994.5" y1="147.5" x2="994.5" y2="667.8" stroke="#cbcdda" stroke-width="1.1" stroke-linecap="butt"/>
<line x1="1001.0" y1="147.5" x2="1001.0" y2="667.8" stroke="#cbcdda" stroke-width="1.1" stroke-linecap="butt"/>
<line x1="1007.2" y1="147.5" x2="1007.2" y2="667.8" stroke="#cbcdda" stroke-width="1.1" stroke-linecap="butt"/>
<line x1="1014.7" y1="147.5" x2="1014.7" y2="667.8" stroke="#cbcdda" stroke-width="1.1" stroke-linecap="butt"/>
<line x1="1021.8" y1="147.5" x2="1021.8" y2="667.8" stroke="#cbcdda" stroke-width="1.1" stroke-linecap="butt"/>
<line x1="1028.6" y1="147.5" x2="1028.6" y2="667.8" stroke="#cbcdda" stroke-width="1.1" stroke-linecap="butt"/>
<line x1="1035.1" y1="147.5" x2="1035.1" y2="667.8" stroke="#cbcdda" stroke-width="1.1" stroke-linecap="butt"/>
<line x1="1041.3" y1="147.5" x2="1041.3" y2="667.8" stroke="#cbcdda" stroke-width="1.1" stroke-linecap="butt"/>
<line x1="1047.3" y1="147.5" x2="1047.3" y2="667.8" stroke="#cbcdda" stroke-width="1.1" stroke-linecap="butt"/>
<line x1="1053.1" y1="147.5" x2="1053.1" y2="667.8" stroke="#cbcdda" stroke-width="1.1" stroke-linecap="butt"/>
<line x1="1058.6" y1="147.5" x2="1058.6" y2="667.8" stroke="#cbcdda" stroke-width="1.1" stroke-linecap="butt"/>
<line x1="1064.0" y1="147.5" x2="1064.0" y2="667.8" stroke="#cbcdda" stroke-width="1.1" stroke-linecap="butt"/>
<line x1="1068.6" y1="147.5" x2="1068.6" y2="667.8" stroke="#cbcdda" stroke-width="1.1" stroke-linecap="butt"/>
<line x1="624.0" y1="147.5" x2="631.0" y2="147.5" stroke="#111111" stroke-width="2" stroke-linecap="butt"/>
<text x="623.5" y="152.0" font-family="Liberation Sans" font-size="13.3" font-weight="bold" fill="#2d3b6e" text-anchor="end" letter-spacing="0.3">15000</text>
<line x1="624.0" y1="182.1" x2="631.0" y2="182.1" stroke="#111111" stroke-width="2" stroke-linecap="butt"/>
<text x="623.5" y="186.6" font-family="Liberation Sans" font-size="13.3" font-weight="bold" fill="#2d3b6e" text-anchor="end" letter-spacing="0.3">12000</text>
<line x1="624.0" y1="209.6" x2="631.0" y2="209.6" stroke="#111111" stroke-width="2" stroke-linecap="butt"/>
<text x="623.5" y="214.1" font-family="Liberation Sans" font-size="13.3" font-weight="bold" fill="#2d3b6e" text-anchor="end" letter-spacing="0.3">10000</text>
<line x1="624.0" y1="243.7" x2="631.0" y2="243.7" stroke="#111111" stroke-width="2" stroke-linecap="butt"/>
<text x="623.5" y="248.2" font-family="Liberation Sans" font-size="13.3" font-weight="bold" fill="#2d3b6e" text-anchor="end" letter-spacing="0.3">8000</text>
<line x1="624.0" y1="264.2" x2="631.0" y2="264.2" stroke="#111111" stroke-width="2" stroke-linecap="butt"/>
<text x="623.5" y="268.7" font-family="Liberation Sans" font-size="13.3" font-weight="bold" fill="#2d3b6e" text-anchor="end" letter-spacing="0.3">7000</text>
<line x1="624.0" y1="286.6" x2="631.0" y2="286.6" stroke="#111111" stroke-width="2" stroke-linecap="butt"/>
<text x="623.5" y="291.1" font-family="Liberation Sans" font-size="13.3" font-weight="bold" fill="#2d3b6e" text-anchor="end" letter-spacing="0.3">6000</text>
<line x1="624.0" y1="315.6" x2="631.0" y2="315.6" stroke="#111111" stroke-width="2" stroke-linecap="butt"/>
<text x="623.5" y="320.1" font-family="Liberation Sans" font-size="13.3" font-weight="bold" fill="#2d3b6e" text-anchor="end" letter-spacing="0.3">5000</text>
<line x1="624.0" y1="348.6" x2="631.0" y2="348.6" stroke="#111111" stroke-width="2" stroke-linecap="butt"/>
<text x="623.5" y="353.1" font-family="Liberation Sans" font-size="13.3" font-weight="bold" fill="#2d3b6e" text-anchor="end" letter-spacing="0.3">4000</text>
<line x1="624.0" y1="372.2" x2="631.0" y2="372.2" stroke="#111111" stroke-width="2" stroke-linecap="butt"/>
<text x="623.5" y="376.7" font-family="Liberation Sans" font-size="13.3" font-weight="bold" fill="#2d3b6e" text-anchor="end" letter-spacing="0.3">3500</text>
<line x1="624.0" y1="394.8" x2="631.0" y2="394.8" stroke="#111111" stroke-width="2" stroke-linecap="butt"/>
<text x="623.5" y="399.3" font-family="Liberation Sans" font-size="13.3" font-weight="bold" fill="#2d3b6e" text-anchor="end" letter-spacing="0.3">3000</text>
<line x1="624.0" y1="428.1" x2="631.0" y2="428.1" stroke="#111111" stroke-width="2" stroke-linecap="butt"/>
<text x="623.5" y="432.6" font-family="Liberation Sans" font-size="13.3" font-weight="bold" fill="#2d3b6e" text-anchor="end" letter-spacing="0.3">2400</text>
<line x1="624.0" y1="454.5" x2="631.0" y2="454.5" stroke="#111111" stroke-width="2" stroke-linecap="butt"/>
<text x="623.5" y="459.0" font-family="Liberation Sans" font-size="13.3" font-weight="bold" fill="#2d3b6e" text-anchor="end" letter-spacing="0.3">2000</text>
<line x1="624.0" y1="473.8" x2="631.0" y2="473.8" stroke="#111111" stroke-width="2" stroke-linecap="butt"/>
<text x="623.5" y="478.3" font-family="Liberation Sans" font-size="13.3" font-weight="bold" fill="#2d3b6e" text-anchor="end" letter-spacing="0.3">1800</text>
<line x1="624.0" y1="501.0" x2="631.0" y2="501.0" stroke="#111111" stroke-width="2" stroke-linecap="butt"/>
<text x="623.5" y="505.5" font-family="Liberation Sans" font-size="13.3" font-weight="bold" fill="#2d3b6e" text-anchor="end" letter-spacing="0.3">1500</text>
<line x1="624.0" y1="534.5" x2="631.0" y2="534.5" stroke="#111111" stroke-width="2" stroke-linecap="butt"/>
<text x="623.5" y="539.0" font-family="Liberation Sans" font-size="13.3" font-weight="bold" fill="#2d3b6e" text-anchor="end" letter-spacing="0.3">1200</text>
<line x1="624.0" y1="561.7" x2="631.0" y2="561.7" stroke="#111111" stroke-width="2" stroke-linecap="butt"/>
<text x="623.5" y="566.2" font-family="Liberation Sans" font-size="13.3" font-weight="bold" fill="#2d3b6e" text-anchor="end" letter-spacing="0.3">1000</text>
<line x1="624.0" y1="596.7" x2="631.0" y2="596.7" stroke="#111111" stroke-width="2" stroke-linecap="butt"/>
<text x="623.5" y="601.2" font-family="Liberation Sans" font-size="13.3" font-weight="bold" fill="#2d3b6e" text-anchor="end" letter-spacing="0.3">800</text>
<line x1="624.0" y1="640.0" x2="631.0" y2="640.0" stroke="#111111" stroke-width="2" stroke-linecap="butt"/>
<text x="623.5" y="644.5" font-family="Liberation Sans" font-size="13.3" font-weight="bold" fill="#2d3b6e" text-anchor="end" letter-spacing="0.3">600</text>
<line x1="655.2" y1="667.8" x2="655.2" y2="673.8" stroke="#111111" stroke-width="2" stroke-linecap="butt"/>
<text x="655.2" y="686.0" font-family="Liberation Sans" font-size="13.3" font-weight="bold" fill="#2d3b6e" text-anchor="middle" letter-spacing="0.3">10</text>
<line x1="682.7" y1="667.8" x2="682.7" y2="673.8" stroke="#111111" stroke-width="2" stroke-linecap="butt"/>
<text x="682.7" y="686.0" font-family="Liberation Sans" font-size="13.3" font-weight="bold" fill="#2d3b6e" text-anchor="middle" letter-spacing="0.3">12</text>
<line x1="717.4" y1="667.8" x2="717.4" y2="673.8" stroke="#111111" stroke-width="2" stroke-linecap="butt"/>
<text x="717.4" y="686.0" font-family="Liberation Sans" font-size="13.3" font-weight="bold" fill="#2d3b6e" text-anchor="middle" letter-spacing="0.3">15</text>
<line x1="761.2" y1="667.8" x2="761.2" y2="673.8" stroke="#111111" stroke-width="2" stroke-linecap="butt"/>
<text x="761.2" y="686.0" font-family="Liberation Sans" font-size="13.3" font-weight="bold" fill="#2d3b6e" text-anchor="middle" letter-spacing="0.3">20</text>
<line x1="794.2" y1="667.8" x2="794.2" y2="673.8" stroke="#111111" stroke-width="2" stroke-linecap="butt"/>
<text x="794.2" y="686.0" font-family="Liberation Sans" font-size="13.3" font-weight="bold" fill="#2d3b6e" text-anchor="middle" letter-spacing="0.3">25</text>
<line x1="823.1" y1="667.8" x2="823.1" y2="673.8" stroke="#111111" stroke-width="2" stroke-linecap="butt"/>
<text x="823.1" y="686.0" font-family="Liberation Sans" font-size="13.3" font-weight="bold" fill="#2d3b6e" text-anchor="middle" letter-spacing="0.3">30</text>
<line x1="844.7" y1="667.8" x2="844.7" y2="673.8" stroke="#111111" stroke-width="2" stroke-linecap="butt"/>
<text x="844.7" y="686.0" font-family="Liberation Sans" font-size="13.3" font-weight="bold" fill="#2d3b6e" text-anchor="middle" letter-spacing="0.3">35</text>
<line x1="868.0" y1="667.8" x2="868.0" y2="673.8" stroke="#111111" stroke-width="2" stroke-linecap="butt"/>
<text x="868.0" y="686.0" font-family="Liberation Sans" font-size="13.3" font-weight="bold" fill="#2d3b6e" text-anchor="middle" letter-spacing="0.3">40</text>
<line x1="902.0" y1="667.8" x2="902.0" y2="673.8" stroke="#111111" stroke-width="2" stroke-linecap="butt"/>
<text x="902.0" y="686.0" font-family="Liberation Sans" font-size="13.3" font-weight="bold" fill="#2d3b6e" text-anchor="middle" letter-spacing="0.3">50</text>
<line x1="927.3" y1="667.8" x2="927.3" y2="673.8" stroke="#111111" stroke-width="2" stroke-linecap="butt"/>
<text x="927.3" y="686.0" font-family="Liberation Sans" font-size="13.3" font-weight="bold" fill="#2d3b6e" text-anchor="middle" letter-spacing="0.3">60</text>
<line x1="952.9" y1="667.8" x2="952.9" y2="673.8" stroke="#111111" stroke-width="2" stroke-linecap="butt"/>
<text x="952.9" y="686.0" font-family="Liberation Sans" font-size="13.3" font-weight="bold" fill="#2d3b6e" text-anchor="middle" letter-spacing="0.3">70</text>
<line x1="974.5" y1="667.8" x2="974.5" y2="673.8" stroke="#111111" stroke-width="2" stroke-linecap="butt"/>
<text x="974.5" y="686.0" font-family="Liberation Sans" font-size="13.3" font-weight="bold" fill="#2d3b6e" text-anchor="middle" letter-spacing="0.3">80</text>
<line x1="1006.7" y1="667.8" x2="1006.7" y2="673.8" stroke="#111111" stroke-width="2" stroke-linecap="butt"/>
<text x="1006.7" y="686.0" font-family="Liberation Sans" font-size="13.3" font-weight="bold" fill="#2d3b6e" text-anchor="middle" letter-spacing="0.3">100</text>
<line x1="1047.1" y1="667.8" x2="1047.1" y2="673.8" stroke="#111111" stroke-width="2" stroke-linecap="butt"/>
<text x="1047.1" y="686.0" font-family="Liberation Sans" font-size="13.3" font-weight="bold" fill="#2d3b6e" text-anchor="middle" letter-spacing="0.3">130</text>
<text x="569.8" y="120.0" font-family="Liberation Sans" font-size="14.5" font-weight="bold" fill="#2d3b6e" text-anchor="start" textLength="44" lengthAdjust="spacingAndGlyphs">P<tspan font-size="10.5">v</tspan>, Па</text>
<text x="1021.6" y="703.5" font-family="Liberation Sans" font-size="14.3" font-weight="bold" fill="#2d3b6e" text-anchor="start" textLength="66" lengthAdjust="spacingAndGlyphs">Q, 10<tspan font-size="8" dy="-5">3</tspan><tspan dy="5">-м</tspan><tspan font-size="8" dy="-5">3</tspan><tspan dy="5">/</tspan></text>
<text x="1112.0" y="702.0" font-family="Liberation Sans" font-size="13" font-weight="bold" fill="#2d3b6e" text-anchor="start" letter-spacing="0.3">ч</text>
<path d="M1111.5,661.5 L1123.5,664.3 L1111.5,667 Z" fill="#111"/>
<line x1="879.7" y1="171.4" x2="633.0" y2="667.8" stroke="#111111" stroke-width="1.9" stroke-linecap="butt"/>
<line x1="916.5" y1="177.4" x2="672.8" y2="667.8" stroke="#111111" stroke-width="1.9" stroke-linecap="butt"/>
<line x1="933.8" y1="182.5" x2="692.6" y2="667.8" stroke="#111111" stroke-width="1.9" stroke-linecap="butt"/>
<line x1="953.8" y1="191.6" x2="717.1" y2="667.8" stroke="#111111" stroke-width="1.9" stroke-linecap="butt"/>
<line x1="971.7" y1="202.2" x2="740.3" y2="667.8" stroke="#111111" stroke-width="4" stroke-linecap="butt"/>
<line x1="985.4" y1="217.2" x2="761.4" y2="667.8" stroke="#111111" stroke-width="1.9" stroke-linecap="butt"/>
<line x1="999.1" y1="234.7" x2="783.8" y2="667.8" stroke="#111111" stroke-width="1.9" stroke-linecap="butt"/>
<line x1="1009.4" y1="253.5" x2="803.5" y2="667.8" stroke="#111111" stroke-width="1.9" stroke-linecap="butt"/>
<line x1="1021.4" y1="297.1" x2="837.2" y2="667.8" stroke="#111111" stroke-width="1.9" stroke-linecap="butt"/>
<text transform="translate(878.6,173.6) rotate(-63.6)" x="0" y="-1.8" font-family="Liberation Sans" font-size="14" font-weight="bold" fill="#111111" text-anchor="end">η=0,550</text>
<text transform="translate(915.4,179.6) rotate(-63.6)" x="0" y="-1.8" font-family="Liberation Sans" font-size="14" font-weight="bold" fill="#111111" text-anchor="end">0,600</text>
<text transform="translate(932.7,184.7) rotate(-63.6)" x="0" y="-1.8" font-family="Liberation Sans" font-size="14" font-weight="bold" fill="#111111" text-anchor="end">0,610</text>
<text transform="translate(952.7,193.8) rotate(-63.6)" x="0" y="-1.8" font-family="Liberation Sans" font-size="14" font-weight="bold" fill="#111111" text-anchor="end">0,650</text>
<text transform="translate(970.6,204.4) rotate(-63.6)" x="0" y="-3.2" font-family="Liberation Sans" font-size="14" font-weight="bold" fill="#111111" text-anchor="end">0,690</text>
<text transform="translate(984.3,219.4) rotate(-63.6)" x="0" y="-1.8" font-family="Liberation Sans" font-size="14" font-weight="bold" fill="#111111" text-anchor="end">0,650</text>
<text transform="translate(998.0,236.9) rotate(-63.6)" x="0" y="-1.8" font-family="Liberation Sans" font-size="14" font-weight="bold" fill="#111111" text-anchor="end">0,610</text>
<text transform="translate(1008.3,255.7) rotate(-63.6)" x="0" y="-1.8" font-family="Liberation Sans" font-size="14" font-weight="bold" fill="#111111" text-anchor="end">0,600</text>
<text transform="translate(1020.3,299.3) rotate(-63.6)" x="0" y="-1.8" font-family="Liberation Sans" font-size="14" font-weight="bold" fill="#111111" text-anchor="end">0,550</text>
<path d="M818.97,293.66 A138.22,138.22 0 0 1 961.91,412.91" fill="none" stroke="#2a4384" stroke-width="4" stroke-linecap="butt"/>
<path d="M808.89,313.91 A135.00,135.00 0 0 1 951.54,434.62" fill="none" stroke="#2a4384" stroke-width="4" stroke-linecap="butt"/>
<path d="M799.85,331.61 A134.39,134.39 0 0 1 940.68,453.26" fill="none" stroke="#2a4384" stroke-width="4" stroke-linecap="butt"/>
<path d="M783.71,363.87 A134.34,134.34 0 0 1 927.49,481.64" fill="none" stroke="#2a4384" stroke-width="4" stroke-linecap="butt"/>
<path d="M773.55,385.31 A132.77,132.77 0 0 1 917.08,500.09" fill="none" stroke="#2a4384" stroke-width="4" stroke-linecap="butt"/>
<path d="M763.49,405.95 A130.75,130.75 0 0 1 907.13,524.69" fill="none" stroke="#2a4384" stroke-width="4" stroke-linecap="butt"/>
<path d="M754.21,425.74 A139.86,139.86 0 0 1 896.21,545.50" fill="none" stroke="#2a4384" stroke-width="4" stroke-linecap="butt"/>
<path d="M751.61,458.86 A125.12,125.12 0 0 1 879.45,579.39" fill="none" stroke="#2a4384" stroke-width="4" stroke-linecap="butt"/>
<path d="M735.77,462.39 A294.40,294.40 0 0 1 961.02,417.38" fill="none" stroke="#e4b11f" stroke-width="7.5" stroke-linecap="butt"/>
<path d="M692.16,551.26 A309.29,309.29 0 0 1 916.37,505.91" fill="none" stroke="#e4b11f" stroke-width="7.5" stroke-linecap="butt"/>
<text x="795.0" y="295.0" font-family="Liberation Sans" font-size="13.3" font-weight="bold" fill="#2d3b6e" text-anchor="start" letter-spacing="0.3">110</text>
<text x="791.0" y="316.1" font-family="Liberation Sans" font-size="13.3" font-weight="bold" fill="#2d3b6e" text-anchor="start" letter-spacing="0.3">90</text>
<text x="783.0" y="335.3" font-family="Liberation Sans" font-size="13.3" font-weight="bold" fill="#2d3b6e" text-anchor="start" letter-spacing="0.3">75</text>
<text x="767.0" y="365.5" font-family="Liberation Sans" font-size="13.3" font-weight="bold" fill="#2d3b6e" text-anchor="start" letter-spacing="0.3">55</text>
<text x="758.0" y="386.1" font-family="Liberation Sans" font-size="13.3" font-weight="bold" fill="#2d3b6e" text-anchor="start" letter-spacing="0.3">45</text>
<text x="748.5" y="406.1" font-family="Liberation Sans" font-size="13.3" font-weight="bold" fill="#2d3b6e" text-anchor="start" letter-spacing="0.3">37</text>
<text x="736.0" y="428.0" font-family="Liberation Sans" font-size="13.3" font-weight="bold" fill="#2d3b6e" text-anchor="start" letter-spacing="0.3">30</text>
<text x="701.5" y="455.9" font-family="Liberation Sans" font-size="13.3" font-weight="bold" fill="#2d3b6e" text-anchor="start" letter-spacing="0.3">N=22</text>
<text x="704.0" y="473.0" font-family="Liberation Sans" font-size="13.3" font-weight="bold" fill="#e6b03a" text-anchor="start" letter-spacing="0.3">987</text>
<text x="968.4" y="424.5" font-family="Liberation Sans" font-size="13.3" font-weight="bold" fill="#e6b03a" text-anchor="start" letter-spacing="0.3">41,34</text>
<text x="923.5" y="513.0" font-family="Liberation Sans" font-size="13.3" font-weight="bold" fill="#e6b03a" text-anchor="start" textLength="50" lengthAdjust="spacingAndGlyphs">U=30,79</text>
<text x="646.3" y="554.0" font-family="Liberation Sans" font-size="13.3" font-weight="bold" fill="#e6b03a" text-anchor="start" textLength="36.7" lengthAdjust="spacingAndGlyphs">n=735</text>
<line x1="631.0" y1="667.8" x2="631.0" y2="113.0" stroke="#111111" stroke-width="2.5" stroke-linecap="butt"/>
<path d="M631,94 L626,113 L636,113 Z" fill="#111111"/>
<line x1="631.0" y1="667.8" x2="1082.0" y2="667.8" stroke="#111111" stroke-width="2.5" stroke-linecap="butt"/>
<path d="M1081,665.6 L1088.5,663.3 L1088.5,672.3 L1081,670.0 Z" fill="#111"/>
<line x1="115.1" y1="859.0" x2="520.0" y2="859.0" stroke="#cbcdda" stroke-width="1.2" stroke-linecap="butt"/>
<line x1="115.1" y1="887.7" x2="520.0" y2="887.7" stroke="#cbcdda" stroke-width="1.2" stroke-linecap="butt"/>
<line x1="115.1" y1="916.2" x2="520.0" y2="916.2" stroke="#cbcdda" stroke-width="1.2" stroke-linecap="butt"/>
<line x1="115.1" y1="948.6" x2="520.0" y2="948.6" stroke="#cbcdda" stroke-width="1.2" stroke-linecap="butt"/>
<line x1="115.1" y1="966.8" x2="520.0" y2="966.8" stroke="#cbcdda" stroke-width="1.2" stroke-linecap="butt"/>
<line x1="115.1" y1="985.9" x2="520.0" y2="985.9" stroke="#cbcdda" stroke-width="1.2" stroke-linecap="butt"/>
<line x1="115.1" y1="1006.8" x2="520.0" y2="1006.8" stroke="#cbcdda" stroke-width="1.2" stroke-linecap="butt"/>
<line x1="115.1" y1="1028.8" x2="520.0" y2="1028.8" stroke="#cbcdda" stroke-width="1.2" stroke-linecap="butt"/>
<line x1="115.1" y1="1054.7" x2="520.0" y2="1054.7" stroke="#cbcdda" stroke-width="1.2" stroke-linecap="butt"/>
<line x1="115.1" y1="1082.9" x2="520.0" y2="1082.9" stroke="#cbcdda" stroke-width="1.2" stroke-linecap="butt"/>
<line x1="115.1" y1="1106.6" x2="520.0" y2="1106.6" stroke="#cbcdda" stroke-width="1.2" stroke-linecap="butt"/>
<line x1="115.1" y1="1134.9" x2="520.0" y2="1134.9" stroke="#cbcdda" stroke-width="1.2" stroke-linecap="butt"/>
<line x1="115.1" y1="1166.8" x2="520.0" y2="1166.8" stroke="#cbcdda" stroke-width="1.2" stroke-linecap="butt"/>
<line x1="115.1" y1="1204.9" x2="520.0" y2="1204.9" stroke="#cbcdda" stroke-width="1.2" stroke-linecap="butt"/>
<line x1="115.1" y1="1247.5" x2="520.0" y2="1247.5" stroke="#cbcdda" stroke-width="1.2" stroke-linecap="butt"/>
<line x1="151.8" y1="859.0" x2="151.8" y2="1249.3" stroke="#cbcdda" stroke-width="1.2" stroke-linecap="butt"/>
<line x1="183.4" y1="859.0" x2="183.4" y2="1249.3" stroke="#cbcdda" stroke-width="1.2" stroke-linecap="butt"/>
<line x1="212.4" y1="859.0" x2="212.4" y2="1249.3" stroke="#cbcdda" stroke-width="1.2" stroke-linecap="butt"/>
<line x1="237.0" y1="859.0" x2="237.0" y2="1249.3" stroke="#cbcdda" stroke-width="1.2" stroke-linecap="butt"/>
<line x1="263.3" y1="859.0" x2="263.3" y2="1249.3" stroke="#cbcdda" stroke-width="1.2" stroke-linecap="butt"/>
<line x1="290.5" y1="859.0" x2="290.5" y2="1249.3" stroke="#cbcdda" stroke-width="1.2" stroke-linecap="butt"/>
<line x1="335.0" y1="859.0" x2="335.0" y2="1249.3" stroke="#cbcdda" stroke-width="1.2" stroke-linecap="butt"/>
<line x1="371.7" y1="859.0" x2="371.7" y2="1249.3" stroke="#cbcdda" stroke-width="1.2" stroke-linecap="butt"/>
<line x1="403.3" y1="859.0" x2="403.3" y2="1249.3" stroke="#cbcdda" stroke-width="1.2" stroke-linecap="butt"/>
<line x1="431.7" y1="859.0" x2="431.7" y2="1249.3" stroke="#cbcdda" stroke-width="1.2" stroke-linecap="butt"/>
<line x1="458.3" y1="859.0" x2="458.3" y2="1249.3" stroke="#cbcdda" stroke-width="1.2" stroke-linecap="butt"/>
<line x1="501.7" y1="859.0" x2="501.7" y2="1249.3" stroke="#cbcdda" stroke-width="1.2" stroke-linecap="butt"/>
<line x1="480.0" y1="859.0" x2="480.0" y2="1249.3" stroke="#cbcdda" stroke-width="1.2" stroke-linecap="butt"/>
<line x1="520.0" y1="859.0" x2="520.0" y2="1249.3" stroke="#cbcdda" stroke-width="1.2" stroke-linecap="butt"/>
<line x1="109.0" y1="859.0" x2="115.1" y2="859.0" stroke="#111111" stroke-width="2" stroke-linecap="butt"/>
<text x="106.3" y="863.5" font-family="Liberation Sans" font-size="13.3" font-weight="bold" fill="#2d3b6e" text-anchor="end" letter-spacing="0.3">5000</text>
<line x1="109.0" y1="887.7" x2="115.1" y2="887.7" stroke="#111111" stroke-width="2" stroke-linecap="butt"/>
<text x="106.3" y="892.2" font-family="Liberation Sans" font-size="13.3" font-weight="bold" fill="#2d3b6e" text-anchor="end" letter-spacing="0.3">4500</text>
<line x1="109.0" y1="916.2" x2="115.1" y2="916.2" stroke="#111111" stroke-width="2" stroke-linecap="butt"/>
<text x="106.3" y="920.7" font-family="Liberation Sans" font-size="13.3" font-weight="bold" fill="#2d3b6e" text-anchor="end" letter-spacing="0.3">4000</text>
<line x1="109.0" y1="948.6" x2="115.1" y2="948.6" stroke="#111111" stroke-width="2" stroke-linecap="butt"/>
<text x="106.3" y="953.1" font-family="Liberation Sans" font-size="13.3" font-weight="bold" fill="#2d3b6e" text-anchor="end" letter-spacing="0.3">3500</text>
<line x1="109.0" y1="966.8" x2="115.1" y2="966.8" stroke="#111111" stroke-width="2" stroke-linecap="butt"/>
<text x="106.3" y="971.3" font-family="Liberation Sans" font-size="13.3" font-weight="bold" fill="#2d3b6e" text-anchor="end" letter-spacing="0.3">3250</text>
<line x1="109.0" y1="985.9" x2="115.1" y2="985.9" stroke="#111111" stroke-width="2" stroke-linecap="butt"/>
<text x="106.3" y="990.4" font-family="Liberation Sans" font-size="13.3" font-weight="bold" fill="#2d3b6e" text-anchor="end" letter-spacing="0.3">3000</text>
<line x1="109.0" y1="1006.8" x2="115.1" y2="1006.8" stroke="#111111" stroke-width="2" stroke-linecap="butt"/>
<text x="106.3" y="1011.3" font-family="Liberation Sans" font-size="13.3" font-weight="bold" fill="#2d3b6e" text-anchor="end" letter-spacing="0.3">2750</text>
<line x1="109.0" y1="1028.8" x2="115.1" y2="1028.8" stroke="#111111" stroke-width="2" stroke-linecap="butt"/>
<text x="106.3" y="1033.3" font-family="Liberation Sans" font-size="13.3" font-weight="bold" fill="#2d3b6e" text-anchor="end" letter-spacing="0.3">2500</text>
<line x1="109.0" y1="1054.7" x2="115.1" y2="1054.7" stroke="#111111" stroke-width="2" stroke-linecap="butt"/>
<text x="106.3" y="1059.2" font-family="Liberation Sans" font-size="13.3" font-weight="bold" fill="#2d3b6e" text-anchor="end" letter-spacing="0.3">2250</text>
<line x1="109.0" y1="1082.9" x2="115.1" y2="1082.9" stroke="#111111" stroke-width="2" stroke-linecap="butt"/>
<text x="106.3" y="1087.4" font-family="Liberation Sans" font-size="13.3" font-weight="bold" fill="#2d3b6e" text-anchor="end" letter-spacing="0.3">2000</text>
<line x1="109.0" y1="1106.6" x2="115.1" y2="1106.6" stroke="#111111" stroke-width="2" stroke-linecap="butt"/>
<text x="106.3" y="1111.1" font-family="Liberation Sans" font-size="13.3" font-weight="bold" fill="#2d3b6e" text-anchor="end" letter-spacing="0.3">1800</text>
<line x1="109.0" y1="1134.9" x2="115.1" y2="1134.9" stroke="#111111" stroke-width="2" stroke-linecap="butt"/>
<text x="106.3" y="1139.4" font-family="Liberation Sans" font-size="13.3" font-weight="bold" fill="#2d3b6e" text-anchor="end" letter-spacing="0.3">1600</text>
<line x1="109.0" y1="1166.8" x2="115.1" y2="1166.8" stroke="#111111" stroke-width="2" stroke-linecap="butt"/>
<text x="106.3" y="1171.3" font-family="Liberation Sans" font-size="13.3" font-weight="bold" fill="#2d3b6e" text-anchor="end" letter-spacing="0.3">1400</text>
<line x1="109.0" y1="1204.9" x2="115.1" y2="1204.9" stroke="#111111" stroke-width="2" stroke-linecap="butt"/>
<text x="106.3" y="1209.4" font-family="Liberation Sans" font-size="13.3" font-weight="bold" fill="#2d3b6e" text-anchor="end" letter-spacing="0.3">1200</text>
<line x1="109.0" y1="1247.5" x2="115.1" y2="1247.5" stroke="#111111" stroke-width="2" stroke-linecap="butt"/>
<text x="106.3" y="1252.0" font-family="Liberation Sans" font-size="13.3" font-weight="bold" fill="#2d3b6e" text-anchor="end" letter-spacing="0.3">1000</text>
<line x1="114.7" y1="1249.3" x2="114.7" y2="1254.3" stroke="#111111" stroke-width="2" stroke-linecap="butt"/>
<text x="114.7" y="1267.5" font-family="Liberation Sans" font-size="13.3" font-weight="bold" fill="#2d3b6e" text-anchor="middle" letter-spacing="0.3">12</text>
<line x1="151.8" y1="1249.3" x2="151.8" y2="1254.3" stroke="#111111" stroke-width="2" stroke-linecap="butt"/>
<text x="151.8" y="1267.5" font-family="Liberation Sans" font-size="13.3" font-weight="bold" fill="#2d3b6e" text-anchor="middle" letter-spacing="0.3">14</text>
<line x1="183.4" y1="1249.3" x2="183.4" y2="1254.3" stroke="#111111" stroke-width="2" stroke-linecap="butt"/>
<text x="183.4" y="1267.5" font-family="Liberation Sans" font-size="13.3" font-weight="bold" fill="#2d3b6e" text-anchor="middle" letter-spacing="0.3">16</text>
<line x1="212.4" y1="1249.3" x2="212.4" y2="1254.3" stroke="#111111" stroke-width="2" stroke-linecap="butt"/>
<text x="212.4" y="1267.5" font-family="Liberation Sans" font-size="13.3" font-weight="bold" fill="#2d3b6e" text-anchor="middle" letter-spacing="0.3">18</text>
<line x1="237.0" y1="1249.3" x2="237.0" y2="1254.3" stroke="#111111" stroke-width="2" stroke-linecap="butt"/>
<text x="237.0" y="1267.5" font-family="Liberation Sans" font-size="13.3" font-weight="bold" fill="#2d3b6e" text-anchor="middle" letter-spacing="0.3">20</text>
<line x1="263.3" y1="1249.3" x2="263.3" y2="1254.3" stroke="#111111" stroke-width="2" stroke-linecap="butt"/>
<text x="263.3" y="1267.5" font-family="Liberation Sans" font-size="13.3" font-weight="bold" fill="#2d3b6e" text-anchor="middle" letter-spacing="0.3">23</text>
<line x1="290.5" y1="1249.3" x2="290.5" y2="1254.3" stroke="#111111" stroke-width="2" stroke-linecap="butt"/>
<text x="290.5" y="1267.5" font-family="Liberation Sans" font-size="13.3" font-weight="bold" fill="#2d3b6e" text-anchor="middle" letter-spacing="0.3">26</text>
<line x1="335.0" y1="1249.3" x2="335.0" y2="1254.3" stroke="#111111" stroke-width="2" stroke-linecap="butt"/>
<text x="335.0" y="1267.5" font-family="Liberation Sans" font-size="13.3" font-weight="bold" fill="#2d3b6e" text-anchor="middle" letter-spacing="0.3">30</text>
<line x1="371.7" y1="1249.3" x2="371.7" y2="1254.3" stroke="#111111" stroke-width="2" stroke-linecap="butt"/>
<text x="371.7" y="1267.5" font-family="Liberation Sans" font-size="13.3" font-weight="bold" fill="#2d3b6e" text-anchor="middle" letter-spacing="0.3">35</text>
<line x1="403.3" y1="1249.3" x2="403.3" y2="1254.3" stroke="#111111" stroke-width="2" stroke-linecap="butt"/>
<text x="403.3" y="1267.5" font-family="Liberation Sans" font-size="13.3" font-weight="bold" fill="#2d3b6e" text-anchor="middle" letter-spacing="0.3">40</text>
<line x1="431.7" y1="1249.3" x2="431.7" y2="1254.3" stroke="#111111" stroke-width="2" stroke-linecap="butt"/>
<text x="431.7" y="1267.5" font-family="Liberation Sans" font-size="13.3" font-weight="bold" fill="#2d3b6e" text-anchor="middle" letter-spacing="0.3">45</text>
<line x1="458.3" y1="1249.3" x2="458.3" y2="1254.3" stroke="#111111" stroke-width="2" stroke-linecap="butt"/>
<text x="458.3" y="1267.5" font-family="Liberation Sans" font-size="13.3" font-weight="bold" fill="#2d3b6e" text-anchor="middle" letter-spacing="0.3">50</text>
<line x1="501.7" y1="1249.3" x2="501.7" y2="1254.3" stroke="#111111" stroke-width="2" stroke-linecap="butt"/>
<text x="501.7" y="1267.5" font-family="Liberation Sans" font-size="13.3" font-weight="bold" fill="#2d3b6e" text-anchor="middle" letter-spacing="0.3">60</text>
<text x="59.6" y="820.3" font-family="Liberation Sans" font-size="14.5" font-weight="bold" fill="#2d3b6e" text-anchor="start" textLength="40.2" lengthAdjust="spacingAndGlyphs">Pv,Па</text>
<text x="499.3" y="1286.8" font-family="Liberation Sans" font-size="14.3" font-weight="bold" fill="#2d3b6e" text-anchor="start" textLength="75.7" lengthAdjust="spacingAndGlyphs">Q, 10<tspan font-size="8" dy="-5">3</tspan><tspan dy="5"> м</tspan><tspan font-size="8" dy="-5">3</tspan><tspan dy="5">/ч</tspan></text>
<line x1="329.3" y1="815.0" x2="115.1" y2="1233.8" stroke="#111111" stroke-width="1.9" stroke-linecap="butt"/>
<line x1="375.0" y1="815.0" x2="152.9" y2="1249.3" stroke="#111111" stroke-width="1.9" stroke-linecap="butt"/>
<line x1="402.7" y1="815.0" x2="180.6" y2="1249.3" stroke="#111111" stroke-width="1.9" stroke-linecap="butt"/>
<line x1="431.7" y1="815.0" x2="209.6" y2="1249.3" stroke="#111111" stroke-width="1.9" stroke-linecap="butt"/>
<line x1="471.7" y1="815.0" x2="249.6" y2="1249.3" stroke="#111111" stroke-width="1.9" stroke-linecap="butt"/>
<line x1="507.3" y1="817.0" x2="286.2" y2="1249.3" stroke="#111111" stroke-width="4" stroke-linecap="butt"/>
<line x1="536.7" y1="815.0" x2="314.6" y2="1249.3" stroke="#111111" stroke-width="1.9" stroke-linecap="butt"/>
<line x1="565.0" y1="815.0" x2="342.9" y2="1249.3" stroke="#111111" stroke-width="1.9" stroke-linecap="butt"/>
<line x1="588.3" y1="815.0" x2="366.2" y2="1249.3" stroke="#111111" stroke-width="1.9" stroke-linecap="butt"/>
<text transform="translate(328.2,817.2) rotate(-62.9)" x="0" y="-1.8" font-family="Liberation Sans" font-size="14" font-weight="bold" fill="#111111" text-anchor="end">η=0,550</text>
<text transform="translate(373.9,817.2) rotate(-62.9)" x="0" y="-1.8" font-family="Liberation Sans" font-size="14" font-weight="bold" fill="#111111" text-anchor="end">0,600</text>
<text transform="translate(401.6,817.2) rotate(-62.9)" x="0" y="-1.8" font-family="Liberation Sans" font-size="14" font-weight="bold" fill="#111111" text-anchor="end">0,625</text>
<text transform="translate(430.6,817.2) rotate(-62.9)" x="0" y="-1.8" font-family="Liberation Sans" font-size="14" font-weight="bold" fill="#111111" text-anchor="end">0,650</text>
<text transform="translate(470.6,817.2) rotate(-62.9)" x="0" y="-1.8" font-family="Liberation Sans" font-size="14" font-weight="bold" fill="#111111" text-anchor="end">0,675</text>
<text transform="translate(506.2,819.2) rotate(-62.9)" x="0" y="-3.2" font-family="Liberation Sans" font-size="14" font-weight="bold" fill="#111111" text-anchor="end">0,700</text>
<text transform="translate(535.6,817.2) rotate(-62.9)" x="0" y="-1.8" font-family="Liberation Sans" font-size="14" font-weight="bold" fill="#111111" text-anchor="end">0,675</text>
<text transform="translate(563.9,817.2) rotate(-62.9)" x="0" y="-1.8" font-family="Liberation Sans" font-size="14" font-weight="bold" fill="#111111" text-anchor="end">0,650</text>
<text transform="translate(587.2,817.2) rotate(-62.9)" x="0" y="-1.8" font-family="Liberation Sans" font-size="14" font-weight="bold" fill="#111111" text-anchor="end">0,625</text>
<path d="M179.60,1112.88 A256.89,256.89 0 0 1 358.09,1248.04" fill="none" stroke="#2a4384" stroke-width="4" stroke-linecap="butt"/>
<path d="M198.31,1078.26 A254.13,254.13 0 0 1 379.93,1222.53" fill="none" stroke="#2a4384" stroke-width="4" stroke-linecap="butt"/>
<path d="M215.08,1044.74 A297.44,297.44 0 0 1 398.91,1186.63" fill="none" stroke="#2a4384" stroke-width="4" stroke-linecap="butt"/>
<path d="M237.07,1005.37 A271.20,271.20 0 0 1 421.55,1145.61" fill="none" stroke="#2a4384" stroke-width="4" stroke-linecap="butt"/>
<path d="M261.85,957.05 A277.75,277.75 0 0 1 444.08,1101.50" fill="none" stroke="#2a4384" stroke-width="4" stroke-linecap="butt"/>
<path d="M274.31,931.98 A277.90,277.90 0 0 1 457.56,1075.66" fill="none" stroke="#2a4384" stroke-width="4" stroke-linecap="butt"/>
<path d="M293.24,894.66 A272.50,272.50 0 0 1 475.26,1039.88" fill="none" stroke="#2a4384" stroke-width="4" stroke-linecap="butt"/>
<path d="M391.25,886.59 A213.86,213.86 0 0 1 495.71,996.84" fill="none" stroke="#2a4384" stroke-width="4" stroke-linecap="butt"/>
<path d="M394.46,866.96 A281.77,281.77 0 0 1 506.10,976.63" fill="none" stroke="#2a4384" stroke-width="4" stroke-linecap="butt"/>
<path d="M210.07,1050.10 A1654.94,1654.94 0 0 1 504.63,979.62" fill="none" stroke="#e4b11f" stroke-width="8.5" stroke-linecap="butt"/>
<path d="M140.00,1189.29 A1109.60,1109.60 0 0 1 436.72,1115.31" fill="none" stroke="#e4b11f" stroke-width="8.5" stroke-linecap="butt"/>
<text x="389.3" y="863.8" font-family="Liberation Sans" font-size="13.3" font-weight="bold" fill="#2d3b6e" text-anchor="start" letter-spacing="0.3">90</text>
<text x="372.7" y="891.8" font-family="Liberation Sans" font-size="13.3" font-weight="bold" fill="#2d3b6e" text-anchor="start" letter-spacing="0.3">75</text>
<text x="269.3" y="896.2" font-family="Liberation Sans" font-size="13.3" font-weight="bold" fill="#2d3b6e" text-anchor="start" letter-spacing="0.3">55</text>
<text x="250.0" y="933.8" font-family="Liberation Sans" font-size="13.3" font-weight="bold" fill="#2d3b6e" text-anchor="start" letter-spacing="0.3">45</text>
<text x="238.3" y="959.5" font-family="Liberation Sans" font-size="13.3" font-weight="bold" fill="#2d3b6e" text-anchor="start" letter-spacing="0.3">37</text>
<text x="162.6" y="1004.1" font-family="Liberation Sans" font-size="13.3" font-weight="bold" fill="#2d3b6e" text-anchor="start" letter-spacing="0.3">Ny=30 кВт</text>
<text x="188.4" y="1050.1" font-family="Liberation Sans" font-size="13.3" font-weight="bold" fill="#2d3b6e" text-anchor="start" letter-spacing="0.3">22</text>
<text x="162.6" y="1080.7" font-family="Liberation Sans" font-size="13.3" font-weight="bold" fill="#2d3b6e" text-anchor="start" letter-spacing="0.3">18,5</text>
<text x="160.2" y="1113.1" font-family="Liberation Sans" font-size="13.3" font-weight="bold" fill="#2d3b6e" text-anchor="start" letter-spacing="0.3">15</text>
<text x="513.3" y="987.2" font-family="Liberation Sans" font-size="13.3" font-weight="bold" fill="#e6b03a" text-anchor="start" letter-spacing="0.3">985</text>
<text x="445.0" y="1123.8" font-family="Liberation Sans" font-size="13.3" font-weight="bold" fill="#e6b03a" text-anchor="start" textLength="90" lengthAdjust="spacingAndGlyphs">n=735 об/мин</text>
<line x1="115.1" y1="1249.3" x2="115.1" y2="820.0" stroke="#111111" stroke-width="2.5" stroke-linecap="butt"/>
<path d="M115.1,803.2 L110.1,822.2 L120.1,822.2 Z" fill="#111111"/>
<line x1="115.1" y1="1249.3" x2="550.0" y2="1249.3" stroke="#111111" stroke-width="2.5" stroke-linecap="butt"/>
<path d="M566,1249.3 L547,1244.3 L547,1254.3 Z" fill="#111111"/>
<text x="639.7" y="983.7" font-family="Liberation Sans" font-size="21" font-weight="normal" fill="#2a2a2a" text-anchor="start" textLength="364" lengthAdjust="spacingAndGlyphs">Q - производительность по воздуху, тыс.м3/ч</text>
<text x="639.7" y="1013.5" font-family="Liberation Sans" font-size="21" font-weight="normal" fill="#2a2a2a" text-anchor="start" textLength="173" lengthAdjust="spacingAndGlyphs">Pv - полное давление</text>
<text x="639.7" y="1043.3" font-family="Liberation Sans" font-size="21" font-weight="normal" fill="#2a2a2a" text-anchor="start" textLength="348.3" lengthAdjust="spacingAndGlyphs">η - коэффициент полезного действия (КПД)</text>
<text x="639.7" y="1073.1" font-family="Liberation Sans" font-size="21" font-weight="normal" fill="#2a2a2a" text-anchor="start" textLength="350.3" lengthAdjust="spacingAndGlyphs">N - потребляемая мощность двигателя, кВт</text>
<text x="639.7" y="1102.9" font-family="Liberation Sans" font-size="21" font-weight="normal" fill="#2a2a2a" text-anchor="start" textLength="273.5" lengthAdjust="spacingAndGlyphs">U - окружная скорость колеса, м/с</text>
<text x="639.7" y="1132.7" font-family="Liberation Sans" font-size="21" font-weight="normal" fill="#2a2a2a" text-anchor="start" textLength="419.1" lengthAdjust="spacingAndGlyphs">n - количество оборотов на рабочем колесе, об/мин</text>
</svg></body></html>
